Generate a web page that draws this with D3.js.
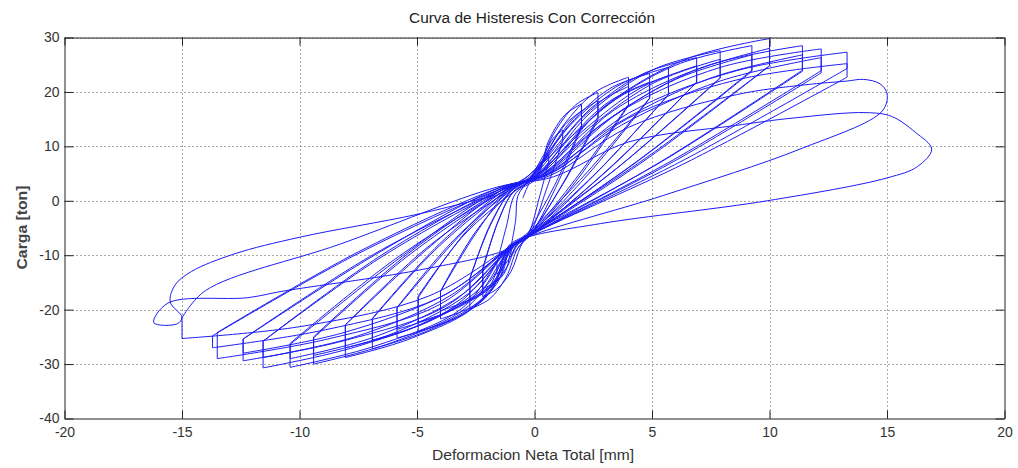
<!DOCTYPE html>
<html>
<head>
<meta charset="utf-8">
<script src="https://cdn.jsdelivr.net/npm/d3@7"></script>
<style>
  body { margin: 0; background: #fff; }
  text { font-family: "Liberation Sans", Arial, sans-serif; }
</style>
</head>
<body>
<svg id="chart" width="1018" height="468"></svg>
<script>
// Axis ticks
const xTicks = [-20, -15, -10, -5, 0, 5, 10, 15, 20];
const yTicks = [-40, -30, -20, -10, 0, 10, 20, 30];

// Recorded load path, one array per cycle: [deformacion mm, carga ton]
// ("b" arrays are the repeated cycle at the same amplitude)
const ciclo01 = [[-0.5,0.5],[-0.2,3.5],[0.2,6.5],[0.6,8.5],[0.6,7.0],[0.2,0.5],[-0.2,-5.5],[-0.5,-7.5],[-0.8,-9.2],[-1.0,-10.0],[-1.0,-8.5],[-0.8,-3.5]];
const ciclo02 = [[-0.7,1.0],[-0.2,4.0],[0.4,8.5],[0.8,11.5],[1.2,13.0],[1.2,11.0],[0.5,2.0],[-0.2,-6.0],[-0.7,-8.0],[-1.1,-10.8],[-1.6,-13.5],[-1.6,-11.5],[-1.2,-4.8]];
const ciclo03 = [[-0.8,1.4],[0.1,4.2],[0.6,11.0],[1.3,15.8],[2.0,17.8],[2.0,13.8],[0.85,2.8],[-0.3,-6.2],[-0.6,-8.5],[-1.0,-13.0],[-1.6,-16.2],[-2.2,-17.6],[-2.2,-12.3],[-1.55,-3.85]];
const ciclo03b = [[-0.9,1.7],[0.0,4.2],[0.6,9.4],[1.3,14.0],[2.0,16.5],[2.0,13.5],[0.9,2.4],[-0.2,-6.3],[-0.8,-8.3],[-1.1,-11.6],[-1.6,-14.6],[-2.2,-16.2],[-2.2,-12.7],[-1.55,-3.75]];
const ciclo04 = [[-0.9,1.6],[0.0,4.4],[0.8,12.2],[1.75,17.6],[2.7,19.9],[2.7,15.4],[1.25,3.5],[-0.2,-6.4],[-0.7,-8.6],[-1.2,-14.0],[-1.9,-18.0],[-2.75,-19.9],[-2.75,-14.2],[-1.9,-4.7]];
const ciclo04b = [[-1.0,1.8],[-0.1,4.3],[0.8,10.2],[1.75,15.6],[2.7,18.4],[2.7,14.9],[1.2,3.0],[-0.3,-6.5],[-1.0,-8.5],[-1.4,-12.7],[-2.0,-16.4],[-2.75,-18.4],[-2.75,-14.4],[-1.9,-4.5]];
const ciclo05 = [[-1.0,1.8],[-0.1,4.6],[1.2,13.7],[2.6,20.0],[4.0,22.7],[4.0,17.7],[1.85,4.6],[-0.3,-6.6],[-1.0,-8.6],[-1.6,-15.2],[-2.6,-19.3],[-4.0,-21.7],[-4.0,-16.7],[-2.5,-6.0]];
const ciclo05b = [[-1.1,1.9],[-0.2,4.4],[1.2,11.4],[2.6,17.7],[4.0,21.0],[4.0,17.5],[1.9,4.35],[-0.2,-6.4],[-0.9,-8.4],[-1.3,-13.4],[-2.6,-17.8],[-4.0,-20.2],[-4.0,-16.6],[-2.5,-5.65]];
const ciclo06 = [[-1.0,1.7],[-0.1,4.5],[1.5,14.0],[3.2,20.6],[4.9,23.4],[4.9,18.9],[2.25,5.3],[-0.4,-6.3],[-1.1,-8.3],[-1.8,-16.2],[-3.2,-21.2],[-4.95,-24.0],[-4.95,-17.5],[-3.0,-6.3]];
const ciclo06b = [[-0.9,1.6],[0.0,4.1],[1.5,11.5],[3.2,18.3],[4.9,21.8],[4.9,18.8],[2.3,4.95],[-0.3,-6.5],[-1.0,-8.5],[-1.5,-14.3],[-3.2,-19.5],[-4.95,-22.3],[-4.95,-17.8],[-3.0,-6.1]];
const ciclo07 = [[-1.1,2.0],[-0.2,4.8],[1.7,14.7],[3.7,21.5],[5.7,24.5],[5.7,19.5],[2.7,5.4],[-0.3,-6.8],[-1.0,-8.8],[-2.0,-17.0],[-3.8,-22.3],[-5.85,-25.2],[-5.85,-19.7],[-3.4,-7.4]];
const ciclo07b = [[-1.2,2.0],[-0.3,4.5],[1.7,12.3],[3.7,19.3],[5.7,23.0],[5.7,19.5],[2.65,5.25],[-0.4,-6.6],[-1.1,-8.6],[-1.75,-14.9],[-3.8,-20.6],[-5.85,-23.6],[-5.85,-19.6],[-3.4,-7.05]];
const ciclo08 = [[-1.0,1.9],[0.0,4.8],[2.1,15.5],[4.5,23.1],[6.9,26.3],[6.9,21.8],[3.35,6.65],[-0.2,-6.5],[-0.9,-8.5],[-2.1,-17.9],[-4.5,-23.8],[-6.9,-27.2],[-6.9,-21.7],[-4.05,-8.3]];
const ciclo08b = [[-1.1,2.0],[0.05,4.6],[2.1,13.0],[4.5,20.7],[6.9,24.8],[6.9,21.8],[3.3,6.35],[-0.3,-6.7],[-1.0,-8.7],[-2.1,-15.8],[-4.5,-22.2],[-6.9,-25.6],[-6.9,-21.6],[-4.05,-7.95]];
const ciclo09 = [[-1.2,2.1],[0.1,4.9],[2.4,16.3],[5.1,24.2],[7.9,27.6],[7.9,22.6],[3.75,6.85],[-0.4,-6.9],[-1.1,-8.9],[-2.4,-18.9],[-5.2,-25.2],[-8.05,-28.8],[-8.05,-22.8],[-4.6,-9.0]];
const ciclo09b = [[-1.3,2.2],[0.15,4.7],[2.4,13.6],[5.1,21.7],[7.9,26.0],[7.9,22.5],[3.7,6.65],[-0.5,-6.8],[-1.2,-8.8],[-2.4,-16.4],[-5.2,-23.4],[-8.05,-27.0],[-8.05,-22.8],[-4.6,-8.7]];
const ciclo10 = [[-1.1,1.8],[0.2,4.9],[2.8,16.6],[6.0,24.9],[9.25,28.5],[9.25,24.0],[4.5,7.7],[-0.3,-6.6],[-1.0,-8.6],[-2.8,-19.3],[-6.1,-26.1],[-9.4,-30.0],[-9.4,-25.2],[-5.35,-10.0]];
const ciclo10b = [[-1.2,2.0],[0.25,4.7],[2.8,13.9],[6.0,22.3],[9.25,26.8],[9.25,23.8],[4.4,7.3],[-0.4,-6.8],[-1.1,-8.8],[-2.8,-17.0],[-6.1,-24.5],[-9.4,-28.4],[-9.4,-25.0],[-5.35,-9.6]];
const ciclo11 = [[-1.3,2.2],[0.3,5.1],[3.0,17.4],[6.5,26.1],[10.0,29.8],[10.0,24.8],[4.75,7.9],[-0.5,-7.0],[-1.2,-9.0],[-3.1,-19.8],[-6.8,-26.7],[-10.4,-30.6],[-10.4,-26.4],[-5.8,-10.7]];
const ciclo11b = [[-1.4,2.3],[0.35,4.8],[3.0,14.5],[6.5,23.4],[10.0,28.0],[10.0,24.8],[4.8,7.75],[-0.4,-6.9],[-1.1,-8.9],[-3.1,-17.3],[-6.8,-25.0],[-10.4,-29.0],[-10.4,-26.2],[-5.8,-10.3]];
const ciclo12 = [[-1.2,2.0],[0.4,5.0],[3.4,16.7],[7.4,24.9],[11.4,28.5],[11.4,24.0],[5.55,7.65],[-0.3,-6.7],[-1.0,-8.7],[-3.5,-19.7],[-7.5,-26.7],[-11.55,-30.7],[-11.55,-25.8],[-6.5,-10.3]];
const ciclo12b = [[-1.3,2.1],[0.45,4.8],[3.4,13.9],[7.4,22.4],[11.4,26.8],[11.4,23.8],[5.45,7.3],[-0.5,-6.8],[-1.2,-8.8],[-3.5,-17.2],[-7.5,-24.8],[-11.55,-28.8],[-11.55,-25.8],[-6.5,-9.95]];
const ciclo13 = [[-1.4,2.3],[0.5,5.1],[3.7,16.5],[7.9,24.5],[12.2,27.9],[12.2,23.9],[5.9,7.5],[-0.4,-6.9],[-1.1,-8.9],[-3.7,-19.2],[-8.1,-25.7],[-12.4,-29.4],[-12.4,-25.4],[-6.85,-10.1]];
const ciclo13b = [[-1.5,2.4],[0.55,4.8],[3.7,13.9],[7.9,22.0],[12.2,26.3],[12.2,23.5],[5.85,7.05],[-0.5,-7.0],[-1.2,-9.0],[-3.7,-17.0],[-8.1,-24.2],[-12.4,-28.0],[-12.4,-25.4],[-6.85,-9.85]];
const ciclo14 = [[-1.3,2.1],[0.6,5.0],[4.0,16.1],[8.6,23.9],[13.3,27.3],[13.3,24.3],[6.4,7.6],[-0.5,-7.1],[-1.2,-9.1],[-4.05,-19.1],[-8.8,-25.4],[-13.5,-29.0],[-13.5,-24.2],[-7.5,-9.4]];
const ciclo15 = [[-1.5,2.4],[0.65,4.9],[4.0,15.2],[8.6,22.2],[13.3,25.2],[13.3,22.7],[6.45,7.0],[-0.4,-6.8],[-1.1,-8.8],[-4.1,-17.9],[-8.9,-23.7],[-13.7,-27.0],[-13.7,-24.8],[-7.55,-9.8]];
const ciclo16 = [[-1.4,2.2],[0.7,4.7],[4.0,13.5],[8.6,19.5],[11.5,21.3],[13.3,22.0],[14.0,22.3],[14.7,21.5],[15.0,19.7],[14.8,16.5],[11.3,9.5],[5.5,1.0],[-0.6,-7.2],[-1.3,-9.2],[-4.5,-17.5],[-9.8,-23.0],[-15.0,-25.3],[-15.0,-21.5],[-14.0,-16.5],[-8.3,-8.0]];
const ciclo17 = [[-1.6,2.5],[0.8,4.4],[4.0,10.8],[8.5,13.8],[11.0,15.2],[14.1,16.2],[15.2,15.5],[16.2,12.6],[16.9,9.5],[16.3,6.3],[15.0,4.2],[9.9,0.0],[2.8,-4.2],[-0.5,-7.0],[-1.2,-9.0],[-5.0,-12.8],[-10.7,-16.6],[-12.2,-17.8],[-15.6,-18.8],[-16.2,-22.4],[-15.2,-22.6],[-15.0,-21.4],[-15.5,-18.6],[-15.3,-15.5],[-14.6,-13.0],[-12.8,-9.8],[-10.0,-6.7],[-5.0,-2.5],[-1.7,1.0]];

const ciclos = [ciclo01, ciclo02, ciclo03, ciclo03b, ciclo04, ciclo04b, ciclo05, ciclo05b,
                ciclo06, ciclo06b, ciclo07, ciclo07b, ciclo08, ciclo08b, ciclo09, ciclo09b,
                ciclo10, ciclo10b, ciclo11, ciclo11b, ciclo12, ciclo12b, ciclo13, ciclo13b,
                ciclo14, ciclo15, ciclo16, ciclo17];

const titulo = "Curva de Histeresis Con Corrección";
const etiquetaX = "Deformacion Neta Total [mm]";
const etiquetaY = "Carga [ton]";

// Layout
const mLeft = 64.5, mRight = 1004.5, mTop = 37.5, mBottom = 418.5;

const svg = d3.select("#chart");
const x = d3.scaleLinear().domain([-20, 20]).range([mLeft, mRight]);
const y = d3.scaleLinear().domain([-40, 30]).range([mBottom, mTop]);

// Dotted grid
const grid = svg.append("g").attr("stroke", "#555").attr("stroke-width", 1)
  .attr("stroke-dasharray", "1,3");
grid.selectAll("line.gx").data(xTicks.slice(1, -1)).join("line")
  .attr("x1", d => Math.round(x(d)) + 0.5).attr("x2", d => Math.round(x(d)) + 0.5)
  .attr("y1", mTop).attr("y2", mBottom);
grid.selectAll("line.gy").data(yTicks.slice(1)).join("line")
  .attr("y1", d => Math.round(y(d)) + 0.5).attr("y2", d => Math.round(y(d)) + 0.5)
  .attr("x1", mLeft).attr("x2", mRight);

// Hysteresis path: smooth branches, straight vertical relaxation steps
const recorrido = ciclos.flat();
const tramos = [];
let actual = [recorrido[0]];
for (let i = 1; i < recorrido.length; i++) {
  const a = recorrido[i - 1], b = recorrido[i];
  if (a[0] === b[0]) {
    if (actual.length > 1) tramos.push({ suave: true, pts: actual });
    tramos.push({ suave: false, pts: [a, b] });
    actual = [b];
  } else {
    actual.push(b);
  }
}
if (actual.length > 1) tramos.push({ suave: true, pts: actual });

const lineaSuave = d3.line().x(d => x(d[0])).y(d => y(d[1])).curve(d3.curveCatmullRom.alpha(0.5));
const lineaRecta = d3.line().x(d => x(d[0])).y(d => y(d[1]));

svg.append("defs").append("clipPath").attr("id", "area")
  .append("rect").attr("x", mLeft).attr("y", mTop).attr("width", mRight - mLeft).attr("height", mBottom - mTop);

svg.append("path")
  .attr("clip-path", "url(#area)")
  .attr("d", tramos.map(t => (t.suave ? lineaSuave : lineaRecta)(t.pts)).join(""))
  .attr("fill", "none")
  .attr("stroke", "#1c1cf5")
  .attr("stroke-width", 1)
  .attr("stroke-linejoin", "round");

// Axes (box with inward ticks on all sides)
function estilo(g) {
  g.select(".domain").attr("stroke", "#222").attr("stroke-width", 1);
  g.selectAll(".tick line").attr("stroke", "#222").attr("stroke-width", 1);
  g.selectAll(".tick text").attr("fill", "#333").attr("font-size", 14)
    .attr("font-family", "'Liberation Sans', Arial, sans-serif");
}

svg.append("g").attr("transform", `translate(0,${mBottom})`)
  .call(d3.axisBottom(x).tickValues(xTicks).tickSize(-8).tickSizeOuter(0).tickPadding(9)
    .tickFormat(d3.format("d")))
  .call(estilo);
svg.append("g").attr("transform", `translate(0,${mTop})`)
  .call(d3.axisTop(x).tickValues(xTicks).tickSize(-8).tickSizeOuter(0).tickFormat(""))
  .call(estilo);
svg.append("g").attr("transform", `translate(${mLeft},0)`)
  .call(d3.axisLeft(y).tickValues(yTicks).tickSize(-9).tickSizeOuter(0).tickPadding(5)
    .tickFormat(d3.format("d")))
  .call(estilo);
svg.append("g").attr("transform", `translate(${mRight},0)`)
  .call(d3.axisRight(y).tickValues(yTicks).tickSize(-9).tickSizeOuter(0).tickFormat(""))
  .call(estilo);

// Plain hyphen for negative tick labels
svg.selectAll(".tick text").text(function () { return this.textContent.replace("\u2212", "-"); });

// Titles
svg.append("text").attr("x", 532).attr("y", 23).attr("text-anchor", "middle")
  .attr("font-size", 14).attr("fill", "#222")
  .attr("textLength", 246).attr("lengthAdjust", "spacingAndGlyphs")
  .text(titulo);
svg.append("text").attr("x", 533).attr("y", 460).attr("text-anchor", "middle")
  .attr("font-size", 14).attr("fill", "#333")
  .attr("textLength", 202).attr("lengthAdjust", "spacingAndGlyphs")
  .text(etiquetaX);
svg.append("text").attr("transform", "translate(27,227.5) rotate(-90)").attr("text-anchor", "middle")
  .attr("font-size", 14).attr("font-weight", "bold").attr("fill", "#444")
  .attr("textLength", 84).attr("lengthAdjust", "spacingAndGlyphs")
  .text(etiquetaY);
</script>
</body>
</html>
